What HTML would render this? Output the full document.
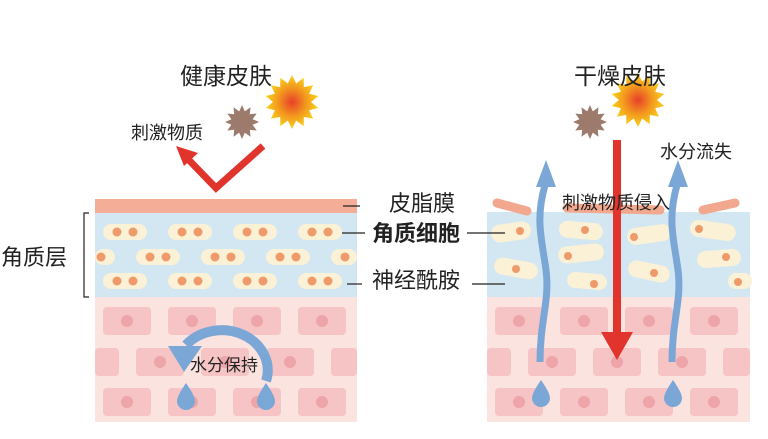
<!DOCTYPE html>
<html><head><meta charset="utf-8"><style>
body{margin:0;background:#fff;width:768px;height:434px;overflow:hidden}
svg text{font-family:"Liberation Sans","Noto Sans CJK SC",sans-serif;fill:#222}
</style></head><body>
<svg id="s" width="768" height="434" xmlns="http://www.w3.org/2000/svg">
<defs>
<radialGradient id="sun"><stop offset="0" stop-color="#e8402a"/><stop offset="0.55" stop-color="#f39a1e"/><stop offset="1" stop-color="#f8d21c"/></radialGradient>
</defs>
<rect x="95" y="297" width="262" height="125" fill="#fbe3df"/>
<rect x="95" y="213" width="262" height="84" fill="#d3e7f2"/>
<rect x="95" y="199" width="262" height="14" fill="#f4ae98"/>
<g id="lc"></g>
<rect x="487" y="297" width="263" height="125" fill="#fbe3df"/>
<rect x="487" y="212" width="263" height="85" fill="#d3e7f2"/>
<g id="rc"></g>
<g stroke="#f1a88e" stroke-width="9" stroke-linecap="round">
<line x1="497" y1="203" x2="527" y2="211"/>
<line x1="567" y1="208" x2="660" y2="210"/>
<line x1="703" y1="210" x2="735" y2="203"/>
</g>
<g fill="#fbf1d6">
<rect x="491" y="223" width="40" height="18" rx="9" transform="rotate(-8 511 232)"/>
<rect x="559" y="222" width="44" height="17" rx="8.5" transform="rotate(5 581 230)"/>
<rect x="627" y="226" width="44" height="17" rx="8.5" transform="rotate(-8 649 234)"/>
<rect x="690" y="222" width="46" height="17" rx="8.5" transform="rotate(8 713 230)"/>
<rect x="494" y="260" width="44" height="17" rx="8.5" transform="rotate(10 516 268)"/>
<rect x="558" y="245" width="46" height="17" rx="8.5" transform="rotate(-6 581 253)"/>
<rect x="628" y="263" width="42" height="17" rx="8.5" transform="rotate(12 649 271)"/>
<rect x="697" y="250" width="44" height="17" rx="8.5" transform="rotate(-4 719 258)"/>
<rect x="567" y="273" width="40" height="16" rx="8" transform="rotate(5 587 281)"/>
<rect x="728" y="273" width="24" height="16" rx="8"/>
</g>
<g fill="#ee9a6a">
<circle cx="520" cy="231" r="4"/><circle cx="585" cy="230" r="4"/><circle cx="634" cy="237" r="4"/><circle cx="699" cy="229" r="4"/>
<circle cx="516" cy="269" r="4"/><circle cx="568" cy="256" r="4"/><circle cx="654" cy="273" r="4"/><circle cx="726" cy="257" r="4"/>
<circle cx="594" cy="284" r="4"/><circle cx="738" cy="282" r="4"/>
</g>
<polyline points="263,146 216,188 186,157" fill="none" stroke="#e1342c" stroke-width="7"/>
<polygon points="176,146 198,153 184,166" fill="#e1342c"/>
<polygon id="sun1" fill="url(#sun)"/>
<polygon id="st1" fill="#9c7a6c"/>
<polygon id="sun2" fill="url(#sun)"/>
<polygon id="st2" fill="#9c7a6c"/>
<path d="M266 381 A46 40 0 0 0 186 345" fill="none" stroke="#7ba7d6" stroke-width="10"/>
<polygon points="168,346 202,346 184,372" fill="#7ba7d6"/>
<rect x="613" y="140" width="8" height="197" fill="#e1342c"/>
<polygon points="601,332 633,332 617,360" fill="#e1342c"/>
<path d="M540 362 C540 320 550 300 546 270 C542 240 535 220 545 185" fill="none" stroke="#7ba7d6" stroke-width="7"/>
<polygon points="536,187 556,187 546,160" fill="#7ba7d6"/>
<path d="M672 362 C672 320 682 300 678 270 C674 240 667 220 677 185" fill="none" stroke="#7ba7d6" stroke-width="7"/>
<polygon points="668,187 688,187 678,160" fill="#7ba7d6"/>
<g fill="#7ba7d6">
<path d="M186 383 Q177 396 177 401 A9 9 0 0 0 195 401 Q195 396 186 383Z"/>
<path d="M266 383 Q257 396 257 401 A9 9 0 0 0 275 401 Q275 396 266 383Z"/>
<path d="M541 380 Q532 393 532 398 A9 9 0 0 0 550 398 Q550 393 541 380Z"/>
<path d="M673 380 Q664 393 664 398 A9 9 0 0 0 682 398 Q682 393 673 380Z"/>
</g>
<text x="226" y="84" font-size="23" text-anchor="middle">健康皮肤</text>
<text x="620" y="84" font-size="23" text-anchor="middle">干燥皮肤</text>
<text x="131" y="139" font-size="18">刺激物质</text>
<text x="660" y="158" font-size="18">水分流失</text>
<text x="562" y="209" font-size="18">刺激物质侵入</text>
<text x="190" y="371" font-size="17">水分保持</text>
<text x="389" y="211" font-size="22">皮脂膜</text>
<text x="372" y="241" font-size="22" font-weight="bold">角质细胞</text>
<text x="372" y="288" font-size="22">神经酰胺</text>
<text x="1" y="265" font-size="22">角质层</text>
<g stroke="#222" stroke-width="1.2">
<line x1="343" y1="206" x2="360" y2="206"/>
<line x1="342" y1="233" x2="365" y2="233"/>
<line x1="467" y1="233" x2="505" y2="233"/>
<line x1="347" y1="284" x2="362" y2="284"/>
<line x1="472" y1="284" x2="505" y2="284"/>
<polyline points="89,213 84,213 84,297 89,297" fill="none"/>
</g>
</svg>
<script>
function star(id,cx,cy,R,r,n){var p=[];for(var i=0;i<2*n;i++){var a=Math.PI*i/n-Math.PI/2;var q=i%2?r:R;p.push((cx+q*Math.cos(a)).toFixed(1)+","+(cy+q*Math.sin(a)).toFixed(1));}document.getElementById(id).setAttribute("points",p.join(" "));}
star("sun1",292,102,27,19,14);star("sun2",638,100,27,19,14);
star("st1",242,122,17,11,12);star("st2",590,122,17,11,12);
var NS="http://www.w3.org/2000/svg";
function el(g,t,a){var e=document.createElementNS(NS,t);for(var k in a)e.setAttribute(k,a[k]);g.appendChild(e);}
function cells(id,x0,x1){var g=document.getElementById(id);
 var rows=[[307,0],[348,-32],[388,0]];
 rows.forEach(function(r){for(var x=x0+8+r[1];x<x1;x+=65){var a=Math.max(x,x0),b=Math.min(x+48,x1);if(b-a<6)continue;el(g,"rect",{x:a,y:r[0],width:b-a,height:28,rx:4,fill:"#f6c4c4"});var c=x+24;if(c>x0+3&&c<x1-3)el(g,"circle",{cx:c,cy:r[0]+14,r:6,fill:"#eda5aa"});}});
}
cells("lc",95,357);cells("rc",487,750);
var g=document.getElementById("lc");
[[224,0],[249,-32],[273,0]].forEach(function(r){for(var x=103+r[1];x<357;x+=65){var a=Math.max(x,95),b=Math.min(x+44,357);if(b-a<8)continue;el(g,"rect",{x:a,y:r[0],width:b-a,height:16,rx:8,fill:"#fbf1d6"});[x+14,x+30].forEach(function(c){if(c>97&&c<355)el(g,"circle",{cx:c,cy:r[0]+8,r:4.5,fill:"#ee9a6a"});});}});
</script>
</body></html>
